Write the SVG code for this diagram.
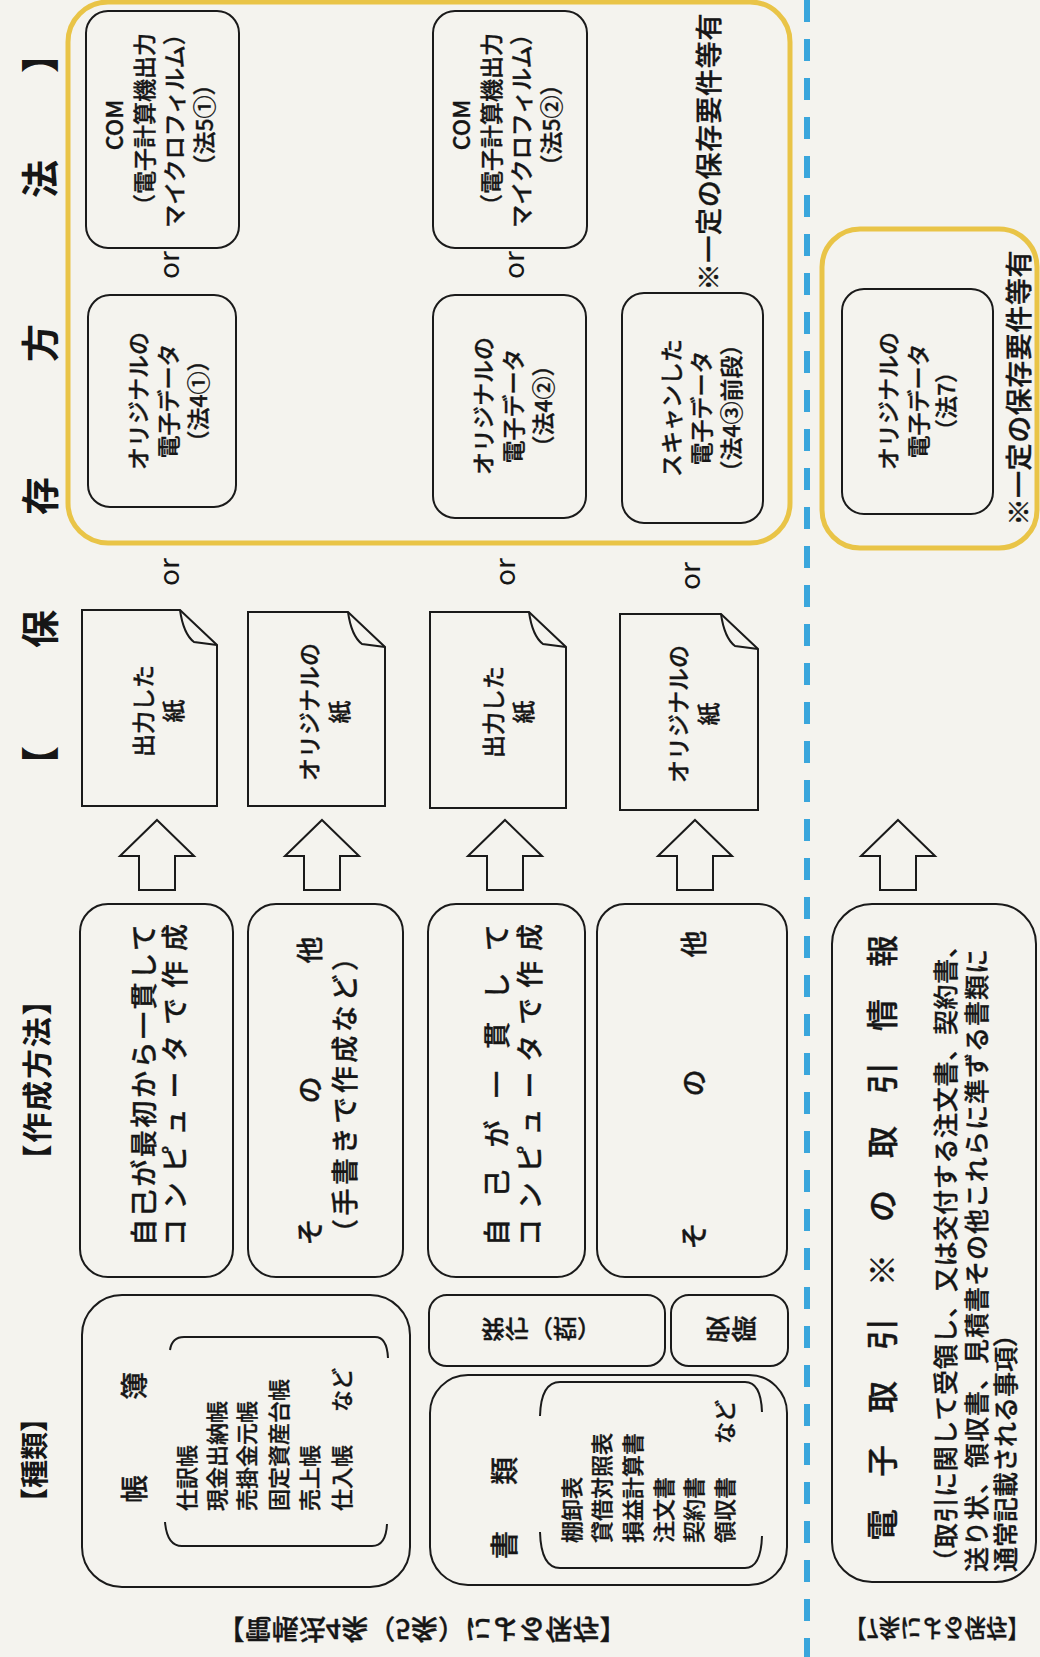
<svg xmlns="http://www.w3.org/2000/svg" width="1040" height="1657" viewBox="0 0 1040 1657">
<style>
.t{font-family:"Noto Sans CJK JP","Noto Sans",sans-serif;font-weight:500;fill:#161616;stroke:#161616;stroke-width:0.35px;text-anchor:middle;dominant-baseline:central}
.st{text-anchor:start}
.h{font-weight:700;stroke-width:0}
.b{fill:none;stroke:#1a1a1a;stroke-width:2}
.bf{fill:#f4f3ee;stroke:#1a1a1a;stroke-width:2;stroke-linejoin:miter}
.y{fill:none;stroke:#e9c447;stroke-width:5}
.s22{font-size:22px}
.s23{font-size:23px}
.s27{font-size:27px}
.or{font-size:28px;font-weight:400;stroke-width:0}
</style>
<rect x="0" y="0" width="1040" height="1657" fill="#f4f3ee"/>

<g id="divider">
<line x1="807" y1="0" x2="807" y2="1657" stroke="#3aa6dc" stroke-width="6" stroke-dasharray="22 17"/>
</g>

<g id="header">
<text class="t h" style="font-size:38px" x="37" y="765" transform="rotate(-90 37 765)">【</text>
<text class="t h" style="font-size:38px" x="37" y="629" transform="rotate(-90 37 629)">保</text>
<text class="t h" style="font-size:38px" x="37" y="496" transform="rotate(-90 37 496)">存</text>
<text class="t h" style="font-size:38px" x="37" y="343" transform="rotate(-90 37 343)">方</text>
<text class="t h" style="font-size:38px" x="37" y="179" transform="rotate(-90 37 179)">法</text>
<text class="t h" style="font-size:38px" x="37" y="54" transform="rotate(-90 37 54)">】</text>
<text class="t h" style="font-size:30px" x="35" y="1080" textLength="189" lengthAdjust="spacing" transform="rotate(-90 35 1080)">【作成方法】</text>
<text class="t h" style="font-size:28px" x="33" y="1460" textLength="112" lengthAdjust="spacing" transform="rotate(-90 33 1460)">【種類】</text>
</g>

<g id="storage-frame-main">
<rect class="y" x="68" y="2" width="722" height="541" rx="40"/>
</g>
<g id="storage-frame-7">
<rect class="y" x="822" y="229" width="215" height="319" rx="38"/>
</g>

<!-- Band A -->
<g id="com-a">
<rect class="b" x="86" y="11" width="153" height="237" rx="22"/>
<text class="t s23" x="113" y="125" transform="rotate(-90 113 125)">COM</text>
<text class="t s23" x="143" y="125" transform="rotate(-90 143 125)">（電子計算機出力</text>
<text class="t s23" x="173" y="125" transform="rotate(-90 173 125)">マイクロフィルム）</text>
<text class="t s23" x="203" y="125" transform="rotate(-90 203 125)">（法5①）</text>
</g>
<g id="or-a1"><text class="t or" x="167" y="265" transform="rotate(-90 167 265)">or</text></g>
<g id="edata-a">
<rect class="b" x="88" y="295" width="148" height="212" rx="22"/>
<text class="t s23" x="137" y="401" transform="rotate(-90 137 401)">オリジナルの</text>
<text class="t s23" x="167" y="401" transform="rotate(-90 167 401)">電子データ</text>
<text class="t s23" x="197" y="401" transform="rotate(-90 197 401)">（法4①）</text>
</g>
<g id="or-a2"><text class="t or" x="167" y="572" transform="rotate(-90 167 572)">or</text></g>
<g id="paper-a">
<path class="b" d="M82,610 L180,610 L217,645 L217,806 L82,806 Z"/>
<path class="b" d="M180,610 C182,624 186,636 194,642 L217,645"/>
<text class="t s23" x="142" y="711" transform="rotate(-90 142 711)">出力した</text>
<text class="t s23" x="172" y="711" transform="rotate(-90 172 711)">紙</text>
</g>
<g id="make-a">
<rect class="b" x="80" y="904" width="153" height="373" rx="28"/>
<text class="t s27" x="142" y="1085" textLength="322" lengthAdjust="spacing" transform="rotate(-90 142 1085)">自己が最初から一貫して</text>
<text class="t s27" x="173" y="1085" textLength="322" lengthAdjust="spacing" transform="rotate(-90 173 1085)">コンピュータで作成</text>
</g>

<!-- Band B -->
<g id="paper-b">
<path class="b" d="M248,612 L348,612 L385,647 L385,806 L248,806 Z"/>
<path class="b" d="M348,612 C350,626 354,638 362,644 L385,647"/>
<text class="t s23" x="308" y="712" transform="rotate(-90 308 712)">オリジナルの</text>
<text class="t s23" x="338" y="712" transform="rotate(-90 338 712)">紙</text>
</g>
<g id="make-b">
<rect class="b" x="248" y="904" width="155" height="373" rx="28"/>
<text class="t s27" x="308" y="1232" transform="rotate(-90 308 1232)">そ</text>
<text class="t s27" x="308" y="1090" transform="rotate(-90 308 1090)">の</text>
<text class="t s27" x="308" y="950" transform="rotate(-90 308 950)">他</text>
<text class="t s27" x="343" y="1095" textLength="302" lengthAdjust="spacing" transform="rotate(-90 343 1095)">（手書きで作成など）</text>
</g>

<!-- Band C -->
<g id="com-c">
<rect class="b" x="433" y="11" width="154" height="237" rx="22"/>
<text class="t s23" x="460" y="125" transform="rotate(-90 460 125)">COM</text>
<text class="t s23" x="490" y="125" transform="rotate(-90 490 125)">（電子計算機出力</text>
<text class="t s23" x="520" y="125" transform="rotate(-90 520 125)">マイクロフィルム）</text>
<text class="t s23" x="550" y="125" transform="rotate(-90 550 125)">（法5②）</text>
</g>
<g id="or-c1"><text class="t or" x="512" y="265" transform="rotate(-90 512 265)">or</text></g>
<g id="edata-c">
<rect class="b" x="433" y="295" width="153" height="223" rx="22"/>
<text class="t s23" x="482" y="406" transform="rotate(-90 482 406)">オリジナルの</text>
<text class="t s23" x="512" y="406" transform="rotate(-90 512 406)">電子データ</text>
<text class="t s23" x="542" y="406" transform="rotate(-90 542 406)">（法4②）</text>
</g>
<g id="or-c2"><text class="t or" x="503" y="572" transform="rotate(-90 503 572)">or</text></g>
<g id="paper-c">
<path class="b" d="M430,612 L529,612 L566,647 L566,808 L430,808 Z"/>
<path class="b" d="M529,612 C531,626 535,638 543,644 L566,647"/>
<text class="t s23" x="492" y="712" transform="rotate(-90 492 712)">出力した</text>
<text class="t s23" x="522" y="712" transform="rotate(-90 522 712)">紙</text>
</g>
<g id="make-c">
<rect class="b" x="428" y="904" width="157" height="373" rx="28"/>
<text class="t s27" x="495" y="1085" textLength="322" lengthAdjust="spacing" transform="rotate(-90 495 1085)">自己が一貫して</text>
<text class="t s27" x="528" y="1085" textLength="322" lengthAdjust="spacing" transform="rotate(-90 528 1085)">コンピュータで作成</text>
</g>

<!-- Band D -->
<g id="note-main">
<text class="t s27" x="707" y="152" textLength="277" lengthAdjust="spacing" transform="rotate(-90 707 152)">※一定の保存要件等有</text>
</g>
<g id="scan-d">
<rect class="b" x="622" y="293" width="141" height="230" rx="22"/>
<text class="t s23" x="670" y="408" transform="rotate(-90 670 408)">スキャンした</text>
<text class="t s23" x="700" y="408" transform="rotate(-90 700 408)">電子データ</text>
<text class="t s23" x="730" y="408" transform="rotate(-90 730 408)">（法4③前段）</text>
</g>
<g id="or-d"><text class="t or" x="688" y="576" transform="rotate(-90 688 576)">or</text></g>
<g id="paper-d">
<path class="b" d="M620,614 L721,614 L758,649 L758,810 L620,810 Z"/>
<path class="b" d="M721,614 C723,628 727,640 735,646 L758,649"/>
<text class="t s23" x="677" y="714" transform="rotate(-90 677 714)">オリジナルの</text>
<text class="t s23" x="707" y="714" transform="rotate(-90 707 714)">紙</text>
</g>
<g id="make-d">
<rect class="b" x="597" y="904" width="190" height="373" rx="28"/>
<text class="t s27" x="692" y="1236" transform="rotate(-90 692 1236)">そ</text>
<text class="t s27" x="692" y="1083" transform="rotate(-90 692 1083)">の</text>
<text class="t s27" x="692" y="944" transform="rotate(-90 692 944)">他</text>
</g>

<!-- Kinds -->
<g id="kind-books">
<rect class="b" x="82" y="1295" width="328" height="292" rx="40"/>
<path class="b" d="M170,1350 Q172,1337 184,1337 L375,1337 Q387,1337 388,1358"/>
<path class="b" d="M165,1522 Q167,1546 182,1546 L372,1546 Q386,1546 387,1524"/>
<text class="t" style="font-size:28px" x="133" y="1489" transform="rotate(-90 133 1489)">帳</text>
<text class="t" style="font-size:28px" x="133" y="1386" transform="rotate(-90 133 1386)">簿</text>
<text class="t st s22" x="185" y="1511" transform="rotate(-90 185 1511)">仕訳帳</text>
<text class="t st s22" x="215" y="1511" transform="rotate(-90 215 1511)">現金出納帳</text>
<text class="t st s22" x="245" y="1511" transform="rotate(-90 245 1511)">売掛金元帳</text>
<text class="t st s22" x="277" y="1511" transform="rotate(-90 277 1511)">固定資産台帳</text>
<text class="t st s22" x="308" y="1511" transform="rotate(-90 308 1511)">売上帳</text>
<text class="t st s22" x="340" y="1511" transform="rotate(-90 340 1511)">仕入帳</text>
<text class="t s22" x="340" y="1390" transform="rotate(-90 340 1390)">など</text>
</g>
<g id="kind-issue">
<rect class="b" x="429" y="1295" width="236" height="71" rx="18"/>
<text class="t" style="font-size:24px" x="541" y="1330" transform="matrix(1 0 0 -1 0 2660)">発行（控）</text>
</g>
<g id="kind-receive">
<rect class="b" x="671" y="1295" width="117" height="71" rx="18"/>
<text class="t" style="font-size:26px" x="731" y="1330" transform="matrix(1 0 0 -1 0 2660)">受領</text>
</g>
<g id="kind-docs">
<rect class="b" x="430" y="1375" width="357" height="210" rx="38"/>
<path class="b" d="M540,1416 Q541,1382 560,1382 L745,1382 Q761,1382 762,1412"/>
<path class="b" d="M540,1532 Q541,1568 560,1568 L745,1568 Q761,1568 762,1536"/>
<text class="t" style="font-size:28px" x="503" y="1545" transform="rotate(-90 503 1545)">書</text>
<text class="t" style="font-size:28px" x="503" y="1471" transform="rotate(-90 503 1471)">類</text>
<text class="t st s22" x="570" y="1543" transform="rotate(-90 570 1543)">棚卸表</text>
<text class="t st s22" x="600" y="1543" transform="rotate(-90 600 1543)">貸借対照表</text>
<text class="t st s22" x="631" y="1543" transform="rotate(-90 631 1543)">損益計算書</text>
<text class="t st s22" x="662" y="1543" transform="rotate(-90 662 1543)">注文書</text>
<text class="t st s22" x="692" y="1543" transform="rotate(-90 692 1543)">契約書</text>
<text class="t st s22" x="723" y="1543" transform="rotate(-90 723 1543)">領収書</text>
<text class="t s22" x="723" y="1422" transform="rotate(-90 723 1422)">など</text>
</g>

<!-- Electronic transactions -->
<g id="kind-etrans">
<rect class="b" x="832" y="904" width="204" height="678" rx="40"/>
<text class="t" style="font-size:32px" x="880" y="1525" transform="rotate(-90 880 1525)">電</text>
<text class="t" style="font-size:32px" x="880" y="1461" transform="rotate(-90 880 1461)">子</text>
<text class="t" style="font-size:32px" x="880" y="1397" transform="rotate(-90 880 1397)">取</text>
<text class="t" style="font-size:32px" x="880" y="1334" transform="rotate(-90 880 1334)">引</text>
<text class="t" style="font-size:32px" x="880" y="1270" transform="rotate(-90 880 1270)">※</text>
<text class="t" style="font-size:32px" x="880" y="1206" transform="rotate(-90 880 1206)">の</text>
<text class="t" style="font-size:32px" x="880" y="1142" transform="rotate(-90 880 1142)">取</text>
<text class="t" style="font-size:32px" x="880" y="1078" transform="rotate(-90 880 1078)">引</text>
<text class="t" style="font-size:32px" x="880" y="1015" transform="rotate(-90 880 1015)">情</text>
<text class="t" style="font-size:32px" x="880" y="951" transform="rotate(-90 880 951)">報</text>
<text class="t st" style="font-size:25px" x="944" y="1574" textLength="641" lengthAdjust="spacing" transform="rotate(-90 944 1574)">（取引に関して受領し、又は交付する注文書、契約書、</text>
<text class="t st" style="font-size:25px" x="975" y="1572" textLength="623" lengthAdjust="spacing" transform="rotate(-90 975 1572)">送り状、領収書、見積書その他これらに準ずる書類に</text>
<text class="t st" style="font-size:25px" x="1004" y="1572" transform="rotate(-90 1004 1572)">通常記載される事項）</text>
</g>
<g id="edata-e">
<rect class="b" x="842" y="289" width="151" height="225" rx="22"/>
<text class="t s23" x="887" y="401" transform="rotate(-90 887 401)">オリジナルの</text>
<text class="t s23" x="917" y="401" transform="rotate(-90 917 401)">電子データ</text>
<text class="t s23" x="945" y="401" transform="rotate(-90 945 401)">（法7）</text>
</g>
<g id="note-7">
<text class="t s27" x="1017" y="388" textLength="275" lengthAdjust="spacing" transform="rotate(-90 1017 388)">※一定の保存要件等有</text>
</g>

<g id="connectors">
<polygon class="bf" points="157,820 194,856 175,856 175,890 139,890 139,856 120,856"/>
<polygon class="bf" points="322,820 359,856 340,856 340,890 304,890 304,856 285,856"/>
<polygon class="bf" points="505,820 542,856 523,856 523,890 487,890 487,856 468,856"/>
<polygon class="bf" points="695,820 732,856 713,856 713,890 677,890 677,856 658,856"/>
<polygon class="bf" points="898,820 935,856 916,856 916,890 880,890 880,856 861,856"/>
</g>

<g id="footer">
<text class="t" style="font-size:27px" x="422" y="1630" textLength="409" lengthAdjust="spacing" transform="matrix(1 0 0 -1 0 3260)">【電帳法4条（5条）による保存】</text>
<text class="t st" style="font-size:25px" x="845" y="1630" textLength="184" lengthAdjust="spacingAndGlyphs" transform="matrix(1 0 0 -1 0 3260)">【7条による保存】</text>
</g>
</svg>
